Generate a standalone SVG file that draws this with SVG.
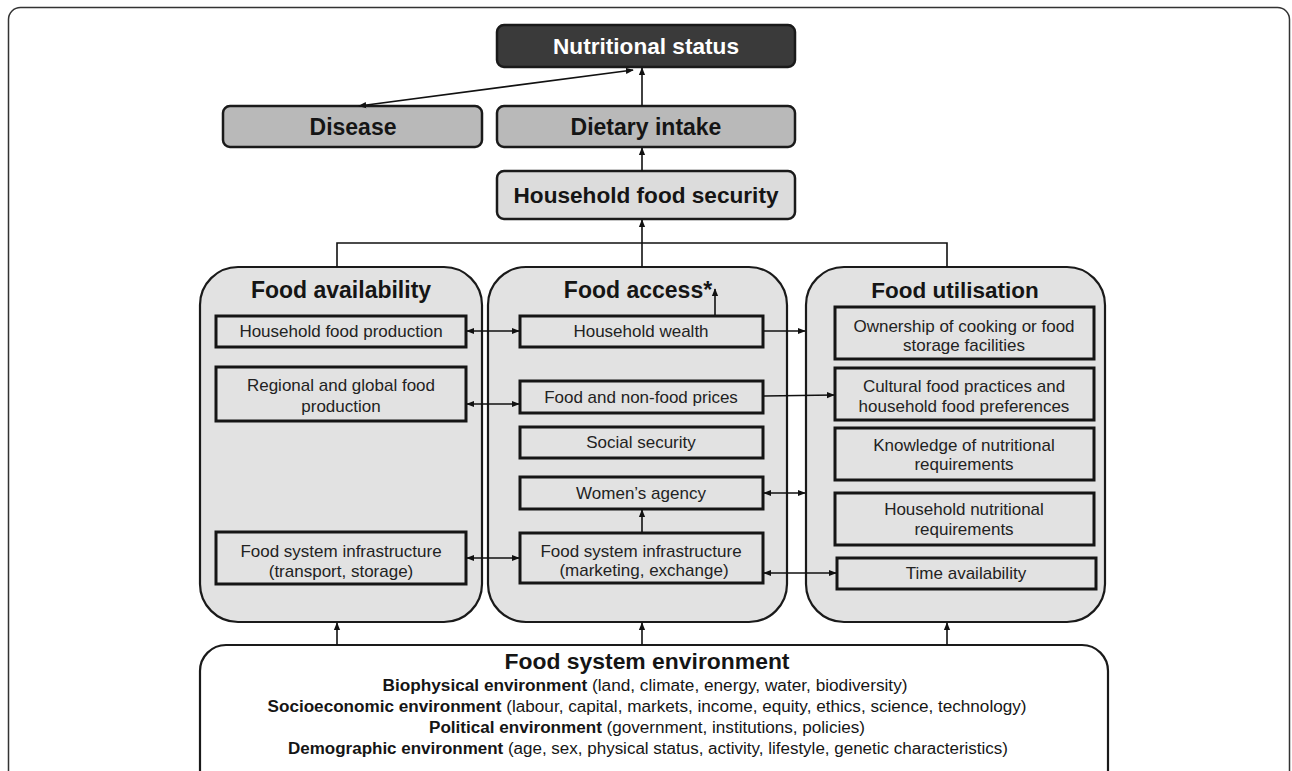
<svg xmlns="http://www.w3.org/2000/svg" width="1292" height="771" viewBox="0 0 1292 771">
<defs>
<marker id="ah" viewBox="0 0 10 10" refX="9" refY="5" markerWidth="8" markerHeight="8" orient="auto-start-reverse" markerUnits="userSpaceOnUse">
<path d="M0,1 L10,5 L0,9 z" fill="#111"/>
</marker>
<style>
.frame{fill:#fff;stroke:#333;stroke-width:1.5}
.top{stroke:#1a1a1a;stroke-width:2.5}
.panel{fill:#e2e2e2;stroke:#1a1a1a;stroke-width:2.2}
.box{fill:#e2e2e2;stroke:#151515;stroke-width:3}
.env{fill:#fff;stroke:#1a1a1a;stroke-width:2.2}
.tb{font-family:"Liberation Sans",Arial,sans-serif;font-weight:bold;font-size:22.5px;fill:#151515;text-anchor:middle}
.t{font-family:"Liberation Sans",Arial,sans-serif;font-size:17px;fill:#222;text-anchor:middle}
.e{font-family:"Liberation Sans",Arial,sans-serif;font-size:16px;fill:#151515;text-anchor:middle}
.eb{font-weight:bold}
.c{fill:none;stroke:#111;stroke-width:1.6}
.ca{fill:none;stroke:#111;stroke-width:1.6;marker-end:url(#ah)}
.cb{fill:none;stroke:#111;stroke-width:1.6;marker-start:url(#ah);marker-end:url(#ah)}
</style>
</defs>
<rect x="0" y="0" width="1292" height="771" fill="#fff"/>
<rect class="frame" x="8.5" y="7.5" width="1281" height="800" rx="12"/>

<g id="nutritional-status">
<rect class="top" x="497" y="25" width="298" height="42" rx="7" fill="#3a3a3a"/>
<text class="tb" x="646" y="54" style="fill:#fff" textLength="186" lengthAdjust="spacingAndGlyphs">Nutritional status</text>
</g>
<g id="disease">
<rect class="top" x="223" y="106" width="259" height="41" rx="7" fill="#b9b9b9"/>
<text class="tb" x="353" y="135" style="font-size:23px">Disease</text>
</g>
<g id="dietary-intake">
<rect class="top" x="497" y="106" width="298" height="41" rx="7" fill="#b9b9b9"/>
<text class="tb" x="646" y="135" style="font-size:23px">Dietary intake</text>
</g>
<g id="household-food-security">
<rect class="top" x="497" y="171" width="298" height="48" rx="7" fill="#dcdcdc"/>
<text class="tb" x="646" y="203" textLength="265" lengthAdjust="spacingAndGlyphs">Household food security</text>
</g>

<g id="food-availability">
<rect class="panel" x="200" y="267" width="282" height="355" rx="38"/>
<text class="tb" x="341" y="298" style="font-size:23px">Food availability</text>
<g id="household-food-production">
<rect class="box" x="216" y="316" width="250" height="31"/>
<text class="t" x="341" y="337">Household food production</text>
</g>
<g id="regional-global-food-production">
<rect class="box" x="216" y="367" width="250" height="54"/>
<text class="t" x="341" y="391">Regional and global food</text>
<text class="t" x="341" y="412">production</text>
</g>
<g id="fsi-transport">
<rect class="box" x="216" y="532" width="250" height="52"/>
<text class="t" x="341" y="557">Food system infrastructure</text>
<text class="t" x="341" y="577">(transport, storage)</text>
</g>
</g>

<g id="food-access">
<rect class="panel" x="488" y="267" width="299" height="355" rx="38"/>
<text class="tb" x="638" y="298" style="font-size:23px">Food access*</text>
<g id="household-wealth">
<rect class="box" x="520" y="316" width="243" height="31"/>
<text class="t" x="641" y="337">Household wealth</text>
</g>
<g id="food-prices">
<rect class="box" x="520" y="381" width="243" height="32"/>
<text class="t" x="641" y="403">Food and non-food prices</text>
</g>
<g id="social-security">
<rect class="box" x="520" y="427" width="243" height="31"/>
<text class="t" x="641" y="448">Social security</text>
</g>
<g id="womens-agency">
<rect class="box" x="520" y="477" width="243" height="32"/>
<text class="t" x="641" y="499">Women’s agency</text>
</g>
<g id="fsi-marketing">
<rect class="box" x="520" y="533" width="243" height="50"/>
<text class="t" x="641" y="557">Food system infrastructure</text>
<text class="t" x="644" y="576">(marketing, exchange)</text>
</g>
</g>

<g id="food-utilisation">
<rect class="panel" x="806" y="267" width="299" height="355" rx="38"/>
<text class="tb" x="955" y="298">Food utilisation</text>
<g id="ownership">
<rect class="box" x="835" y="307" width="259" height="52"/>
<text class="t" x="964" y="332">Ownership of cooking or food</text>
<text class="t" x="964" y="351">storage  facilities</text>
</g>
<g id="cultural-practices">
<rect class="box" x="835" y="368" width="259" height="52"/>
<text class="t" x="964" y="392">Cultural food practices and</text>
<text class="t" x="964" y="412">household food preferences</text>
</g>
<g id="knowledge">
<rect class="box" x="835" y="428" width="259" height="52"/>
<text class="t" x="964" y="451">Knowledge of nutritional</text>
<text class="t" x="964" y="470">requirements</text>
</g>
<g id="household-nutritional-requirements">
<rect class="box" x="835" y="493" width="259" height="52"/>
<text class="t" x="964" y="515">Household nutritional</text>
<text class="t" x="964" y="535">requirements</text>
</g>
<g id="time-availability">
<rect class="box" x="837" y="558" width="259" height="31"/>
<text class="t" x="966" y="579">Time availability</text>
</g>
</g>

<g id="food-system-environment">
<rect class="env" x="200" y="645" width="908" height="160" rx="26"/>
<text class="tb" x="647" y="669" textLength="285" lengthAdjust="spacingAndGlyphs">Food system environment</text>
<text class="e" x="645" y="691" textLength="525" lengthAdjust="spacingAndGlyphs"><tspan class="eb">Biophysical environment</tspan> (land, climate, energy, water, biodiversity)</text>
<text class="e" x="647" y="712" textLength="759" lengthAdjust="spacingAndGlyphs"><tspan class="eb">Socioeconomic environment</tspan> (labour, capital, markets, income, equity, ethics, science, technology)</text>
<text class="e" x="647" y="733" textLength="436" lengthAdjust="spacingAndGlyphs"><tspan class="eb">Political environment</tspan> (government, institutions, policies)</text>
<text class="e" x="648" y="754" textLength="720" lengthAdjust="spacingAndGlyphs"><tspan class="eb">Demographic environment</tspan> (age, sex, physical status, activity, lifestyle, genetic characteristics)</text>
</g>

<g id="connectors">
<path class="cb" d="M359,106 L633,70"/>
<path class="ca" d="M642,106 L642,68"/>
<path class="ca" d="M642,171 L642,148"/>
<path class="c" d="M337,267 L337,243 L947,243 L947,267"/>
<path class="ca" d="M642,267 L642,220"/>
<path class="ca" d="M337,645 L337,623"/>
<path class="ca" d="M642,645 L642,623"/>
<path class="ca" d="M947,645 L947,623"/>
<path class="cb" d="M467,331 L519,331"/>
<path class="cb" d="M467,404 L519,404"/>
<path class="cb" d="M467,558 L519,558"/>
<path class="ca" d="M764,331 L805,331"/>
<path class="ca" d="M764,396 L834,395"/>
<path class="cb" d="M764,493 L805,493"/>
<path class="cb" d="M764,573 L836,573"/>
<path class="ca" d="M642,532 L642,510"/>
<path class="ca" d="M715,315 L715,289"/>
</g>
</svg>
